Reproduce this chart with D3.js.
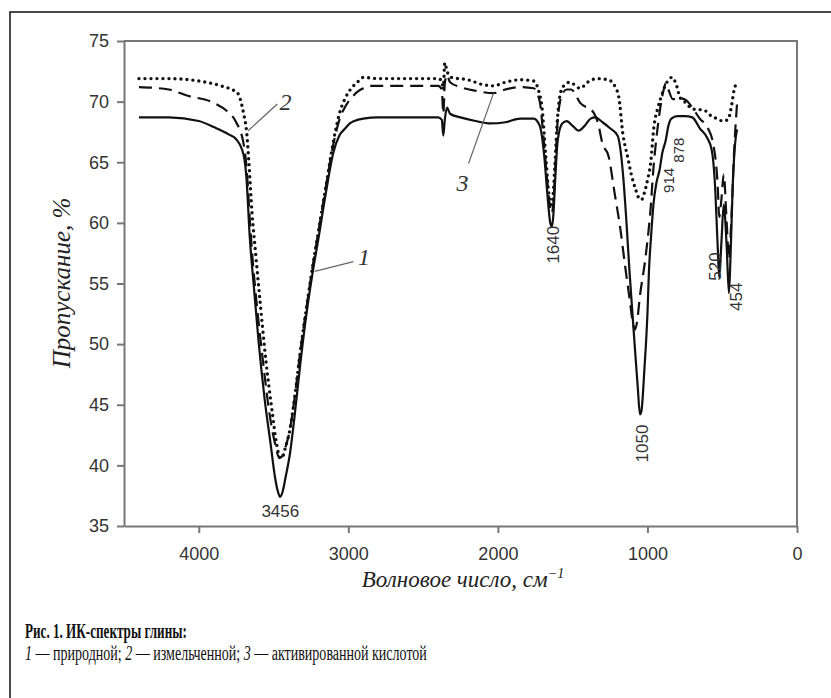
<!DOCTYPE html>
<html>
<head>
<meta charset="utf-8">
<script src="https://cdn.jsdelivr.net/npm/d3@7"></script>
<style>
  body { margin: 0; background: #fff; }
  svg { display: block; }
</style>
</head>
<body>
<div id="chart"></div>
<script>
// Axis ticks
let xTicks = [4000, 3000, 2000, 1000, 0];
let yTicks = [35, 40, 45, 50, 55, 60, 65, 70, 75];

// Curve 1 - natural clay (solid)
let wn1 = [4400, 4200, 4000, 3900, 3800, 3750, 3700, 3680, 3660, 3630, 3600, 3560, 3520, 3490, 3470, 3456, 3440, 3420, 3390, 3360, 3320, 3280, 3240, 3200, 3150, 3100, 3060, 3020, 2990, 2960, 2900, 2800, 2600, 2400, 2375, 2365, 2355, 2340, 2320, 2250, 2150, 2050, 1950, 1850, 1760, 1720, 1690, 1670, 1650, 1640, 1630, 1615, 1600, 1570, 1540, 1500, 1460, 1420, 1380, 1350, 1300, 1250, 1200, 1180, 1160, 1140, 1120, 1100, 1080, 1065, 1050, 1040, 1020, 1000, 990, 975, 960, 940, 920, 900, 878, 860, 840, 800, 750, 700, 650, 600, 570, 550, 530, 520, 505, 490, 470, 455, 445, 430, 410, 400];
let t1 = [68.7, 68.7, 68.4, 67.9, 67.3, 66.9, 65.6, 63.5, 59.0, 54.5, 50.2, 45.5, 41.8, 39.0, 37.8, 37.4, 37.8, 39.0, 41.0, 44.0, 48.5, 52.5, 55.8, 58.7, 62.5, 65.8, 67.2, 67.8, 68.2, 68.4, 68.6, 68.7, 68.7, 68.7, 68.5, 67.2, 68.5, 69.5, 69.0, 68.7, 68.4, 68.2, 68.3, 68.6, 68.6, 68.0, 65.5, 62.5, 60.0, 59.7, 60.5, 64.0, 66.8, 68.2, 68.4, 68.0, 67.6, 68.0, 68.6, 68.7, 68.3, 67.8, 67.2, 66.0, 63.5, 60.0, 56.0, 52.5, 49.0, 46.5, 44.2, 44.5, 48.0, 52.5, 56.0, 59.0, 61.5, 63.3, 64.3, 65.8, 66.8, 68.0, 68.6, 68.8, 68.8, 68.7, 67.8, 67.0, 66.0, 63.5, 58.0, 55.5, 58.5, 61.5, 58.0, 54.2, 57.0, 63.0, 67.0, 67.7];

// Curve 2 - ground clay (dashed)
let wn2 = [4400, 4200, 4080, 3900, 3810, 3750, 3700, 3680, 3660, 3640, 3610, 3570, 3530, 3490, 3460, 3440, 3420, 3390, 3360, 3320, 3280, 3240, 3200, 3150, 3100, 3060, 3020, 2980, 2940, 2900, 2850, 2600, 2400, 2375, 2365, 2355, 2340, 2320, 2250, 2150, 2030, 1950, 1850, 1760, 1720, 1695, 1670, 1650, 1640, 1630, 1615, 1600, 1570, 1540, 1510, 1450, 1360, 1330, 1300, 1260, 1220, 1180, 1150, 1120, 1095, 1085, 1070, 1050, 1020, 1000, 980, 960, 940, 920, 895, 877, 860, 830, 790, 740, 700, 650, 600, 560, 530, 520, 505, 490, 470, 455, 440, 420, 400];
let t2 = [71.2, 71.0, 70.5, 69.9, 69.2, 68.3, 66.5, 64.5, 60.5, 57.0, 53.0, 48.5, 44.5, 41.8, 40.6, 40.8, 41.5, 43.0, 45.5, 49.5, 53.0, 56.3, 59.3, 63.0, 66.5, 68.5, 69.6, 70.3, 70.8, 71.1, 71.3, 71.3, 71.3, 71.0, 69.0, 71.5, 72.2, 71.6, 71.2, 70.9, 70.7, 71.0, 71.2, 71.1, 70.0, 67.0, 63.5, 61.2, 60.8, 61.5, 65.0, 68.5, 70.6, 71.0, 71.0, 69.9, 69.1, 68.2, 66.5, 65.5, 62.5, 59.4, 56.5, 53.8, 51.6, 51.2, 51.8, 54.0, 56.5, 58.5, 61.0, 64.5, 67.0, 69.0, 70.8, 71.5, 71.0, 70.2, 70.3, 70.1, 69.5, 68.6, 67.9, 66.5, 63.0, 60.5, 62.0, 64.0, 60.0, 57.0, 60.0, 66.0, 70.0];

// Curve 3 - acid activated clay (dotted)
let wn3 = [4400, 4200, 4000, 3850, 3780, 3740, 3700, 3680, 3665, 3645, 3620, 3590, 3550, 3510, 3480, 3455, 3440, 3420, 3390, 3360, 3320, 3280, 3240, 3200, 3150, 3100, 3060, 3020, 2980, 2940, 2900, 2800, 2600, 2400, 2375, 2365, 2355, 2340, 2310, 2200, 2100, 2030, 1950, 1850, 1760, 1730, 1705, 1680, 1660, 1645, 1635, 1620, 1605, 1585, 1560, 1520, 1450, 1400, 1340, 1260, 1230, 1192, 1165, 1130, 1110, 1080, 1055, 1040, 1020, 1000, 978, 957, 930, 911, 870, 835, 810, 780, 743, 700, 623, 560, 529, 500, 462, 440, 420, 400];
let t3 = [71.9, 71.9, 71.7, 71.3, 71.0, 70.7, 69.0, 67.5, 65.0, 61.0, 57.5, 53.5, 48.5, 44.5, 41.8, 40.6, 40.7, 41.5, 43.0, 45.5, 49.5, 53.0, 56.3, 59.3, 63.0, 66.7, 69.0, 70.3, 71.1, 71.6, 72.0, 71.9, 71.9, 71.9, 71.7, 71.0, 73.2, 72.5, 72.0, 71.8, 71.4, 71.3, 71.6, 71.8, 71.7, 71.0, 69.5, 65.5, 62.5, 61.5, 61.8, 64.5, 68.0, 70.5, 71.3, 71.6, 71.1, 71.6, 71.9, 71.8, 71.5, 70.4, 67.4, 65.3, 64.1, 62.8, 62.0, 61.9, 62.5, 63.5, 65.0, 67.9, 69.5, 70.3, 71.6, 72.0, 71.5, 70.3, 69.9, 69.4, 69.3, 68.7, 68.6, 68.4, 68.5, 69.5, 71.0, 71.6];

// Peak labels (text, wavenumber / transmittance where the label sits)
let peakText = ["3456", "1640", "1050", "914", "878", "520", "454"];
let peakWn = [3455, 1627, 1031, 857, 790, 542, 402];
let peakT = [36.2, 58.2, 41.8, 63.5, 66.0, 56.4, 53.9];

// Curve number callouts: label, point on curve, label position
let calloutText = ["1", "2", "3"];
let calloutFromWn = [3225, 3670, 2029];
let calloutFromT = [56.0, 67.6, 70.7];
let calloutToWn = [2966, 3475, 2196];
let calloutToT = [56.8, 69.8, 64.9];
let calloutLabelWn = [2895, 3420, 2237];
let calloutLabelT = [57.2, 70.0, 63.3];

let W = 831, H = 698;
let margin = {"top": 41, "bottom": 172, "left": 124, "right": 34};
let width = W - margin.left - margin.right;
let height = H - margin.top - margin.bottom;

let svg = d3.select("#chart").append("svg")
    .attr("width", W)
    .attr("height", H);

// outer frame (only top/left visible)
svg.append("rect")
    .attr("x", 10).attr("y", 12)
    .attr("width", 900).attr("height", 900)
    .attr("fill", "none")
    .attr("stroke", "#111")
    .attr("stroke-width", 1.5);

let g = svg.append("g")
    .attr("transform", "translate(" + margin.left + ", " + margin.top + ")");

let x = d3.scaleLinear().domain([4500, 0]).range([0, width]);
let y = d3.scaleLinear().domain([35, 75]).range([height, 0]);

let axisColor = "#777";
let textColor = "#333";

// plot frame top/right
g.append("path")
    .attr("d", "M0,0H" + width + "V" + height)
    .attr("fill", "none")
    .attr("stroke", axisColor)
    .attr("stroke-width", 2);

let yAxis = g.append("g")
    .call(d3.axisLeft(y).tickValues(yTicks).tickSize(7).tickSizeOuter(0).tickPadding(8));
let xAxis = g.append("g")
    .attr("transform", "translate(0," + height + ")")
    .call(d3.axisBottom(x).tickValues(xTicks).tickFormat(d3.format("d"))
        .tickSize(7).tickSizeOuter(0).tickPadding(14));

[xAxis, yAxis].forEach(a => {
    a.select(".domain").attr("stroke", axisColor).attr("stroke-width", 2);
    a.selectAll(".tick line").attr("stroke", axisColor).attr("stroke-width", 2);
    a.selectAll(".tick text")
        .attr("fill", textColor)
        .style("font-family", "'Liberation Sans', Arial, sans-serif")
        .style("font-size", "18px");
});

// spectra
let line = d3.line()
    .x(d => x(d[0]))
    .y(d => y(d[1]))
    .curve(d3.curveMonotoneX);

let series = [
    {wn: wn1, t: t1, dash: null, width: 2.2, cap: "butt"},
    {wn: wn2, t: t2, dash: "13,7", width: 2.2, cap: "butt"},
    {wn: wn3, t: t3, dash: "0,6", width: 3.4, cap: "round"}
];

series.forEach(s => {
    g.append("path")
        .datum(d3.zip(s.wn, s.t))
        .attr("d", line)
        .attr("fill", "none")
        .attr("stroke", "#111")
        .attr("stroke-width", s.width)
        .attr("stroke-linecap", s.cap)
        .attr("stroke-linejoin", "round")
        .attr("stroke-dasharray", s.dash);
});

// peak labels
peakText.forEach((txt, i) => {
    let horiz = i === 0;
    let small = txt === "914" || txt === "878";
    g.append("text")
        .attr("transform", "translate(" + x(peakWn[i]) + "," + y(peakT[i]) + ")" + (horiz ? "" : " rotate(-90)"))
        .attr("text-anchor", "middle")
        .attr("dominant-baseline", "central")
        .attr("fill", textColor)
        .style("font-family", "'Liberation Sans', Arial, sans-serif")
        .style("font-size", small ? "15px" : "17px")
        .text(txt);
});

// callouts
calloutText.forEach((txt, i) => {
    g.append("line")
        .attr("x1", x(calloutFromWn[i])).attr("y1", y(calloutFromT[i]))
        .attr("x2", x(calloutToWn[i])).attr("y2", y(calloutToT[i]))
        .attr("stroke", "#666")
        .attr("stroke-width", 1.2);
    g.append("text")
        .attr("x", x(calloutLabelWn[i]))
        .attr("y", y(calloutLabelT[i]))
        .attr("text-anchor", "middle")
        .attr("dominant-baseline", "central")
        .attr("fill", "#333")
        .style("font-family", "'Liberation Serif', 'Times New Roman', serif")
        .style("font-style", "italic")
        .style("font-size", "24px")
        .text(txt);
});

// axis titles
let xTitle = svg.append("text")
    .attr("x", 463).attr("y", 587)
    .attr("text-anchor", "middle")
    .attr("fill", "#222")
    .style("font-family", "'Liberation Serif', 'Times New Roman', serif")
    .style("font-style", "italic")
    .style("font-size", "23px");
xTitle.append("tspan").text("Волновое число, см");
xTitle.append("tspan").attr("dy", -9).style("font-size", "14px").text("−1");

svg.append("text")
    .attr("transform", "translate(70,283) rotate(-90)")
    .attr("text-anchor", "middle")
    .attr("fill", "#222")
    .style("font-family", "'Liberation Serif', 'Times New Roman', serif")
    .style("font-style", "italic")
    .style("font-size", "25px")
    .text("Пропускание, %");

// caption (condensed serif, squeezed horizontally to the reference width)
function squeeze(sel, targetWidth, x0, y0) {
    let len = sel.node().getComputedTextLength();
    sel.attr("transform", "translate(" + x0 + "," + y0 + ") scale(" + (targetWidth / len) + ",1)");
}

let cap1 = svg.append("text")
    .attr("fill", "#111")
    .style("font-family", "'Liberation Serif', 'Times New Roman', serif")
    .style("font-weight", "bold")
    .style("font-size", "20px")
    .text("Рис. 1. ИК-спектры глины:");
squeeze(cap1, 162, 25, 638);

let cap2 = svg.append("text")
    .attr("fill", "#111")
    .style("font-family", "'Liberation Serif', 'Times New Roman', serif")
    .style("font-size", "20px");
cap2.append("tspan").style("font-style", "italic").text("1");
cap2.append("tspan").text(" — природной; ");
cap2.append("tspan").style("font-style", "italic").text("2");
cap2.append("tspan").text(" — измельченной; ");
cap2.append("tspan").style("font-style", "italic").text("3");
cap2.append("tspan").text(" — активированной кислотой");
squeeze(cap2, 402, 25, 660);
</script>
</body>
</html>
